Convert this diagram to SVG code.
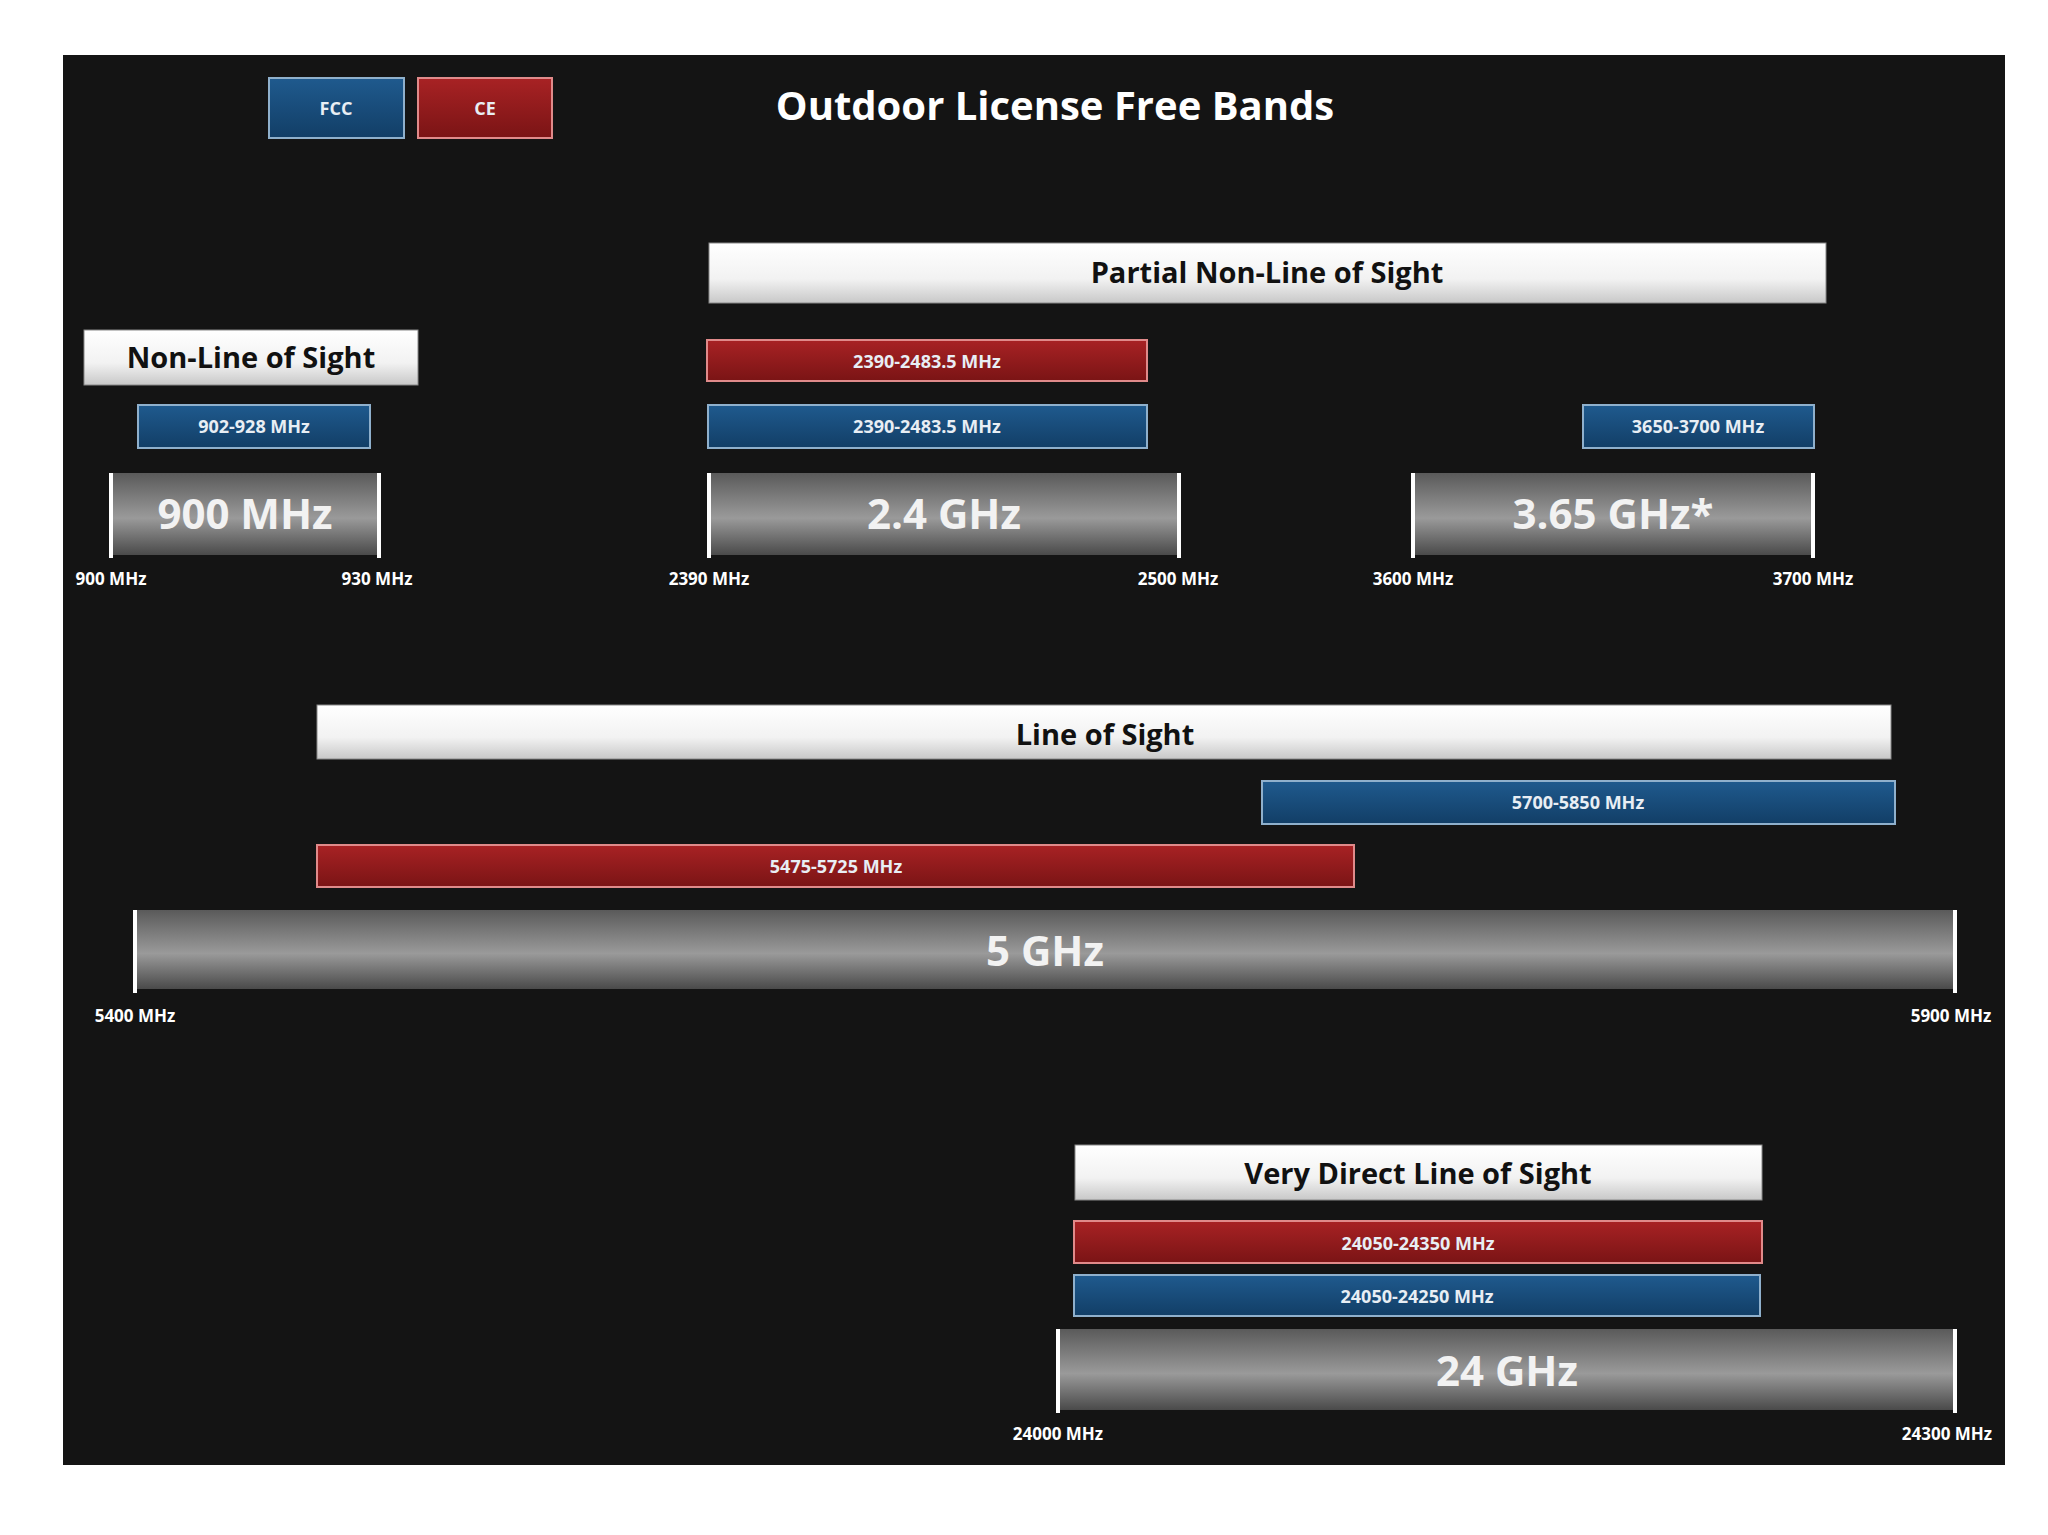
<svg xmlns="http://www.w3.org/2000/svg" width="2048" height="1535" viewBox="0 0 2048 1535">
<defs>
<linearGradient id="gray" x1="0" y1="0" x2="0" y2="1"><stop offset="0" stop-color="#5a5a5a"/><stop offset="0.55" stop-color="#9a9a9a"/><stop offset="1" stop-color="#4a4a4a"/></linearGradient>
<linearGradient id="white" x1="0" y1="0" x2="0" y2="1"><stop offset="0" stop-color="#ffffff"/><stop offset="0.6" stop-color="#f2f2f2"/><stop offset="1" stop-color="#c8c8c8"/></linearGradient>
<linearGradient id="blue" x1="0" y1="0" x2="0" y2="1"><stop offset="0" stop-color="#1f5a8e"/><stop offset="1" stop-color="#123e66"/></linearGradient>
<linearGradient id="red" x1="0" y1="0" x2="0" y2="1"><stop offset="0" stop-color="#a82224"/><stop offset="1" stop-color="#7a1415"/></linearGradient>
</defs>
<style>
text{font-family:"Open Sans","DejaVu Sans",sans-serif;font-weight:bold;text-anchor:middle}
.b{fill:url(#blue);stroke:#8fb0cc;stroke-width:2}
.r{fill:url(#red);stroke:#e08a8a;stroke-width:2}
.w{fill:url(#white);stroke:#888;stroke-width:1}
.g{fill:url(#gray)}
.t{stroke:#fff;stroke-width:4}
.sm{fill:#e8eef4;font-size:18px}
.wt{fill:#111;font-size:29px}
.big{fill:#f2f2f2;font-size:42px}
.tk{fill:#fff;font-size:17px}
</style>
<rect width="2048" height="1535" fill="#fff"/>
<rect x="63" y="55" width="1942" height="1410" fill="#141414"/>
<g id="legend-fcc"><rect class="b" x="269" y="78" width="135" height="60"/><text class="sm" x="336" y="115">FCC</text></g>
<g id="legend-ce"><rect class="r" x="418" y="78" width="134" height="60"/><text class="sm" x="485" y="115">CE</text></g>
<text id="title" x="1055" y="120" fill="#fff" font-size="40">Outdoor License Free Bands</text>
<g id="pnlos"><rect class="w" x="709" y="243" width="1117" height="60"/><text class="wt" x="1267" y="283">Partial Non-Line of Sight</text></g>
<g id="nlos"><rect class="w" x="84" y="330" width="334" height="55"/><text class="wt" x="251" y="368">Non-Line of Sight</text></g>
<g id="b902"><rect class="b" x="138" y="405" width="232" height="43"/><text class="sm" x="254" y="433">902-928 MHz</text></g>
<g id="band900"><rect class="g" x="111" y="473" width="268" height="82"/><line class="t" x1="111" y1="473" x2="111" y2="558"/><line class="t" x1="379" y1="473" x2="379" y2="558"/><text class="big" x="245" y="529">900 MHz</text></g>
<g id="r24"><rect class="r" x="707" y="340" width="440" height="41"/><text class="sm" x="927" y="368">2390-2483.5 MHz</text></g>
<g id="b24"><rect class="b" x="708" y="405" width="439" height="43"/><text class="sm" x="927" y="433">2390-2483.5 MHz</text></g>
<g id="band24"><rect class="g" x="709" y="473" width="470" height="82"/><line class="t" x1="709" y1="473" x2="709" y2="558"/><line class="t" x1="1179" y1="473" x2="1179" y2="558"/><text class="big" x="944" y="529">2.4 GHz</text></g>
<g id="b365"><rect class="b" x="1583" y="405" width="231" height="43"/><text class="sm" x="1698" y="433">3650-3700 MHz</text></g>
<g id="band365"><rect class="g" x="1413" y="473" width="400" height="82"/><line class="t" x1="1413" y1="473" x2="1413" y2="558"/><line class="t" x1="1813" y1="473" x2="1813" y2="558"/><text class="big" x="1613" y="529">3.65 GHz*</text></g>
<g id="ticks1">
<text class="tk" x="111" y="585">900 MHz</text><text class="tk" x="377" y="585">930 MHz</text>
<text class="tk" x="709" y="585">2390 MHz</text><text class="tk" x="1178" y="585">2500 MHz</text>
<text class="tk" x="1413" y="585">3600 MHz</text><text class="tk" x="1813" y="585">3700 MHz</text>
</g>
<g id="los"><rect class="w" x="317" y="705" width="1574" height="54"/><text class="wt" x="1105" y="745">Line of Sight</text></g>
<g id="b57"><rect class="b" x="1262" y="781" width="633" height="43"/><text class="sm" x="1578" y="809">5700-5850 MHz</text></g>
<g id="r54"><rect class="r" x="317" y="845" width="1037" height="42"/><text class="sm" x="836" y="873">5475-5725 MHz</text></g>
<g id="band5"><rect class="g" x="135" y="910" width="1820" height="79"/><line class="t" x1="135" y1="910" x2="135" y2="993"/><line class="t" x1="1955" y1="910" x2="1955" y2="993"/><text class="big" x="1045" y="966">5 GHz</text></g>
<text class="tk" x="135" y="1022">5400 MHz</text><text class="tk" x="1951" y="1022">5900 MHz</text>
<g id="vdlos"><rect class="w" x="1075" y="1145" width="687" height="55"/><text class="wt" x="1418" y="1184">Very Direct Line of Sight</text></g>
<g id="r240"><rect class="r" x="1074" y="1221" width="688" height="42"/><text class="sm" x="1418" y="1250">24050-24350 MHz</text></g>
<g id="b240"><rect class="b" x="1074" y="1275" width="686" height="41"/><text class="sm" x="1417" y="1303">24050-24250 MHz</text></g>
<g id="band240"><rect class="g" x="1058" y="1329" width="897" height="81"/><line class="t" x1="1058" y1="1329" x2="1058" y2="1413"/><line class="t" x1="1955" y1="1329" x2="1955" y2="1413"/><text class="big" x="1507" y="1386">24 GHz</text></g>
<text class="tk" x="1058" y="1440">24000 MHz</text><text class="tk" x="1947" y="1440">24300 MHz</text>
<g id="connectors"/>
</svg>
